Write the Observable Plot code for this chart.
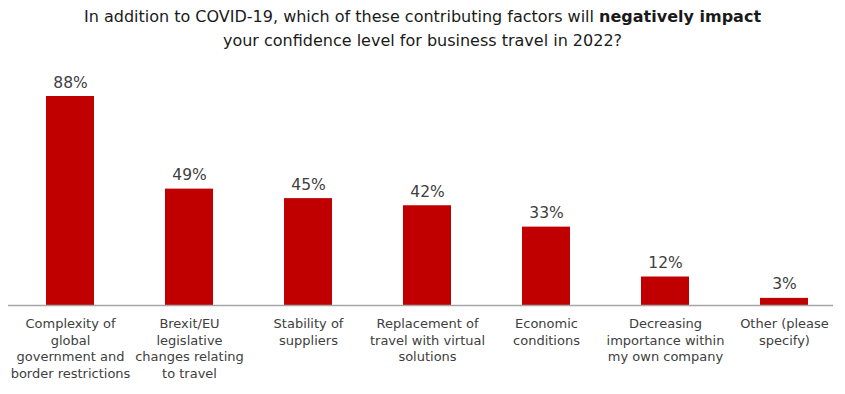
<!DOCTYPE html>
<html><head><meta charset="utf-8">
<script src="https://cdn.jsdelivr.net/npm/d3@7"></script>
<script src="https://cdn.jsdelivr.net/npm/@observablehq/plot@0.6"></script>
<style>
body{margin:0;background:#fff;font-family:"DejaVu Sans",sans-serif;}
#title{width:845px;height:60px;text-align:center;font-size:16px;line-height:24px;color:#1a1a1a;padding-top:5px;box-sizing:border-box;}
</style></head><body>
<div id="title">In addition to COVID-19, which of these contributing factors will <b>negatively impact</b><br>your confidence level for business travel in 2022?</div>
<div id="chart"></div>
<script>
const categories = [
  "Complexity of\nglobal\ngovernment and\nborder restrictions",
  "Brexit/EU\nlegislative\nchanges relating\nto travel",
  "Stability of\nsuppliers",
  "Replacement of\ntravel with virtual\nsolutions",
  "Economic\nconditions",
  "Decreasing\nimportance within\nmy own company",
  "Other (please\nspecify)"
];
const values = [88, 49, 45, 42, 33, 12, 3];
const data = categories.map((c, i) => ({category: c, value: values[i]}));

const chart = Plot.plot({
  width: 845,
  height: 334,
  marginLeft: 10,
  marginRight: 2,
  marginTop: 7.5,
  marginBottom: 89,
  style: {fontFamily: "DejaVu Sans, sans-serif", fontSize: "13px", color: "#404040", background: "#fff"},
  x: {domain: categories, paddingInner: 0.6, paddingOuter: 0.3, axis: null},
  y: {domain: [0, 100], axis: null},
  marks: [
    Plot.barY(data, {x: "category", y: "value", fill: "#C00000"}),
    Plot.ruleY([0], {stroke: "#a6a6a6", strokeWidth: 1.5, insetLeft: -2, insetRight: 10}),
    Plot.text(data, {x: "category", y: "value", text: d => d.value + "%", dy: -9, lineAnchor: "bottom", fontSize: 15.5, fill: "#404040"}),
    Plot.axisX({domain: categories, tickSize: 0, tickPadding: 11, lineHeight: 1.27, fontSize: 13, fill: "#404040", label: null})
  ]
});
document.getElementById("chart").appendChild(chart);
</script>
</body></html>
